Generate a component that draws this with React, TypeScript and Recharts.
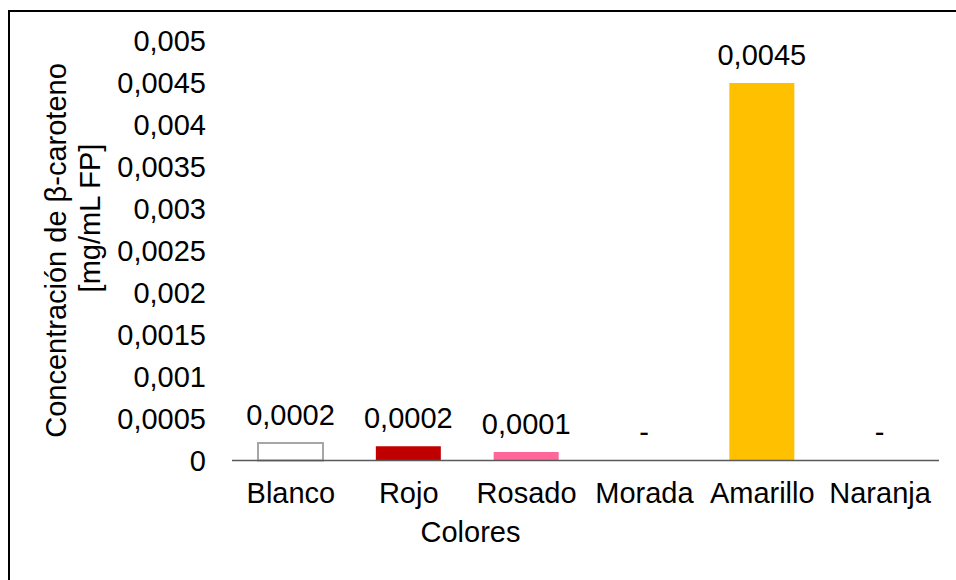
import React from 'react';
import { BarChart, Bar, XAxis, YAxis, Cell, LabelList, Label } from 'recharts';

// Colour categories and their β-carotene concentration (mg/mL FP)
const colores = ['Blanco', 'Rojo', 'Rosado', 'Morada', 'Amarillo', 'Naranja'];
const concentracion = [0.00021, 0.00017, 0.0001, 0, 0.0045, 0];
const rellenos = ['#FFFFFF', '#C00000', '#FF6699', 'none', '#FFC000', 'none'];
const bordes = ['#A6A6A6', 'none', 'none', 'none', 'none', 'none'];
const yTicks = [0, 0.0005, 0.001, 0.0015, 0.002, 0.0025, 0.003, 0.0035, 0.004, 0.0045, 0.005];

const data = colores.map((color, i) => ({ color, valor: concentracion[i] }));

const FONT = '"Liberation Sans", Arial, sans-serif';
const FS = 29;

const fmtTick = (v: number) => String(+v.toFixed(4)).replace('.', ',');
const fmtLabel = (v: number) => (v === 0 ? '-' : v.toFixed(4).replace('.', ','));

// Two-line rotated title for the value axis
const YTitle = () => (
  <g fontFamily={FONT} fontSize={FS} fill="#000">
    <text x={66} y={250.5} transform="rotate(-90, 66, 250.5)" textAnchor="middle">
      Concentración de β-caroteno
    </text>
    <text x={100} y={218} transform="rotate(-90, 100, 218)" textAnchor="middle">
      [mg/mL FP]
    </text>
  </g>
);

// Value label drawn above each bar; empty categories show a dash
const ValueLabel = (props: any) => {
  const { x, y, width, value } = props;
  return (
    <text
      x={Number(x) + Number(width) / 2}
      y={Number(y) - 18}
      textAnchor="middle"
      fontFamily={FONT}
      fontSize={FS}
      fill="#000"
    >
      {fmtLabel(Number(value))}
    </text>
  );
};

// Empty categories keep a 1px invisible slot so their dash label is placed
const minSize = (value: any) => (Number(value) === 0 ? 1 : 0);

export default function App() {
  return (
    <div style={{ position: 'fixed', left: 0, top: 0, width: 956, height: 580, background: '#fff', overflow: 'hidden' }}>
      <div
        style={{
          position: 'absolute',
          left: 8,
          top: 10,
          width: 1000,
          height: 700,
          border: '2px solid #000',
          boxSizing: 'border-box',
        }}
      />
      <div style={{ position: 'absolute', left: 0, top: 0 }}>
        <BarChart
          width={956}
          height={580}
          data={data}
          margin={{ top: 41, right: 17, bottom: 63.5, left: 112 }}
          barSize={65}
        >
          <YAxis
            width={120}
            domain={[0, 0.005]}
            ticks={yTicks}
            interval={0}
            axisLine={false}
            tickLine={false}
            tickSize={0}
            tickMargin={26}
            tickFormatter={fmtTick}
            tick={{ fontFamily: FONT, fontSize: FS, fill: '#000' }}
          >
            <Label content={() => <YTitle />} />
          </YAxis>
          <XAxis
            dataKey="color"
            height={56}
            interval={0}
            tickLine={false}
            tickSize={0}
            tickMargin={22}
            axisLine={{ stroke: '#595959', strokeWidth: 1.5 }}
            tick={{ fontFamily: FONT, fontSize: FS, fill: '#000' }}
          >
            <Label
              value="Colores"
              position="bottom"
              offset={5}
              dx={-115}
              style={{ fontFamily: FONT, fontSize: FS, fill: '#000' }}
            />
          </XAxis>
          <Bar dataKey="valor" isAnimationActive={false} minPointSize={minSize}>
            {data.map((d, i) => (
              <Cell key={d.color} fill={rellenos[i]} stroke={bordes[i]} strokeWidth={2} />
            ))}
            <LabelList dataKey="valor" content={ValueLabel} />
          </Bar>
        </BarChart>
      </div>
    </div>
  );
}
